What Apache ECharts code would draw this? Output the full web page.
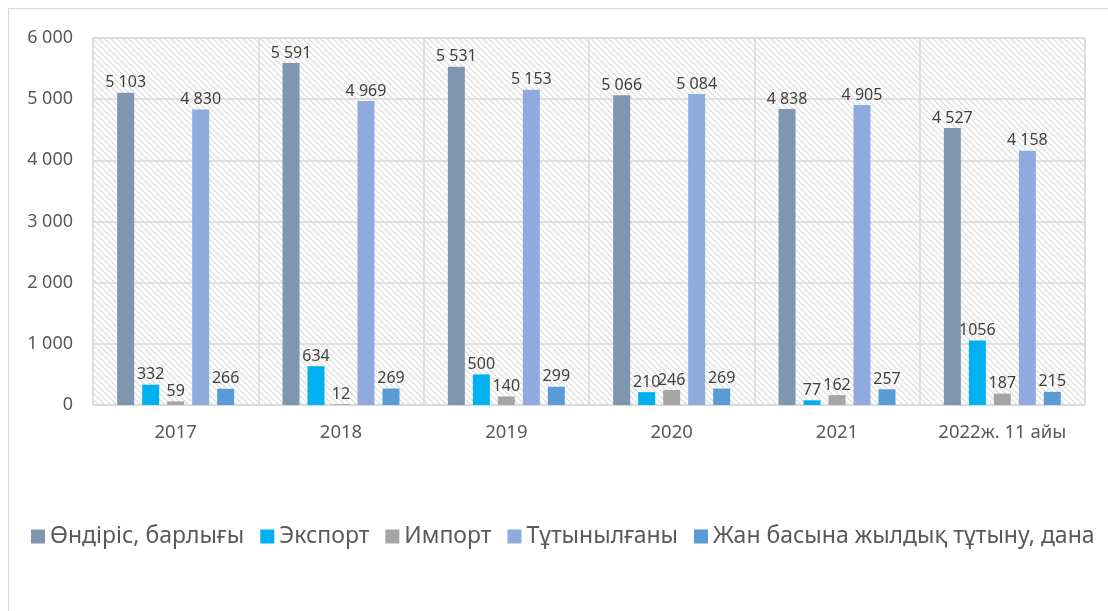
<!DOCTYPE html>
<html>
<head>
<meta charset="utf-8">
<script src="https://cdn.jsdelivr.net/npm/echarts@6/dist/echarts.min.js"></script>
<style>
  html, body { margin: 0; padding: 0; background: #fff; overflow: hidden; }
  #frame { position: absolute; left: 8px; top: 8px; width: 1200px; height: 700px; border: 1px solid #d9d9d9; }
  #chart { position: absolute; left: 0; top: 0; width: 1108px; height: 611px; }
</style>
</head>
<body>
<div id="frame"></div>
<div id="chart"></div>
<script>
const years = ['2017', '2018', '2019', '2020', '2021', '2022ж. 11 айы'];
const seriesNames = ['Өндіріс, барлығы', 'Экспорт', 'Импорт', 'Тұтынылғаны', 'Жан басына жылдық тұтыну, дана'];
const production = [5103, 5591, 5531, 5066, 4838, 4527];
const exportVals = [332, 634, 500, 210, 77, 1056];
const importVals = [59, 12, 140, 246, 162, 187];
const consumed = [4830, 4969, 5153, 5084, 4905, 4158];
const perCapita = [266, 269, 299, 269, 257, 215];
const yTicks = [0, 1000, 2000, 3000, 4000, 5000, 6000];

const colors = ['#7f96b1', '#00b0f0', '#a5a5a5', '#8faadc', '#5b9bd5'];

// hatched background for the plot area
function hatch() {
    const c = document.createElement('canvas');
    c.width = 6; c.height = 6;
    const g = c.getContext('2d');
    g.fillStyle = '#ffffff';
    g.fillRect(0, 0, 6, 6);
    g.strokeStyle = '#dadada';
    g.lineWidth = 1.2;
    g.beginPath();
    g.moveTo(-1, -1); g.lineTo(7, 7);
    g.moveTo(-4, 2); g.lineTo(2, 8);
    g.moveTo(2, -4); g.lineTo(8, 2);
    g.stroke();
    return c;
}

const spaced = v => String(v).replace(/\B(?=(\d{3})+(?!\d))/g, ' ');

const chart = echarts.init(document.getElementById('chart'));
const font = '"Noto Sans", "Open Sans", sans-serif';

const makeSeries = (name, data, idx, plain) => ({
    name: name,
    type: 'bar',
    data: data,
    barWidth: 17,
    barGap: '47%',
    itemStyle: { color: colors[idx] },
    label: {
        show: true,
        position: 'top',
        distance: 2,
        color: '#404040',
        fontSize: 16,
        fontFamily: font,
        formatter: p => plain ? String(p.value) : spaced(p.value)
    }
});

chart.setOption({
    animation: false,
    textStyle: { fontFamily: font },
    grid: {
        left: 93, right: 23, top: 38, bottom: 206,
        show: true,
        borderColor: '#d9d9d9',
        borderWidth: 1,
        backgroundColor: { image: hatch(), repeat: 'repeat' }
    },
    legend: {
        bottom: 58,
        left: 26,
        itemWidth: 14,
        itemHeight: 14,
        itemGap: 16,
        icon: 'rect',
        textStyle: { fontSize: 23, color: '#595959', fontFamily: font },
        data: seriesNames
    },
    xAxis: {
        type: 'category',
        data: years,
        axisLine: { lineStyle: { color: '#d9d9d9', width: 1.5 } },
        axisTick: { show: false },
        splitLine: { show: true, interval: 0, lineStyle: { color: '#d9d9d9', width: 1.5 } },
        axisLabel: { interval: 0, color: '#595959', fontSize: 18.5, margin: 18, fontFamily: font }
    },
    yAxis: {
        type: 'value',
        min: yTicks[0],
        max: yTicks[yTicks.length - 1],
        interval: 1000,
        axisLine: { show: false },
        axisTick: { show: false },
        splitLine: { lineStyle: { color: '#d9d9d9', width: 1.5 } },
        axisLabel: { color: '#595959', fontSize: 18, margin: 20, fontFamily: font, formatter: v => spaced(v) }
    },
    series: [
        makeSeries(seriesNames[0], production, 0, false),
        makeSeries(seriesNames[1], exportVals, 1, true),
        makeSeries(seriesNames[2], importVals, 2, false),
        makeSeries(seriesNames[3], consumed, 3, false),
        makeSeries(seriesNames[4], perCapita, 4, false)
    ]
});
</script>
</body>
</html>
